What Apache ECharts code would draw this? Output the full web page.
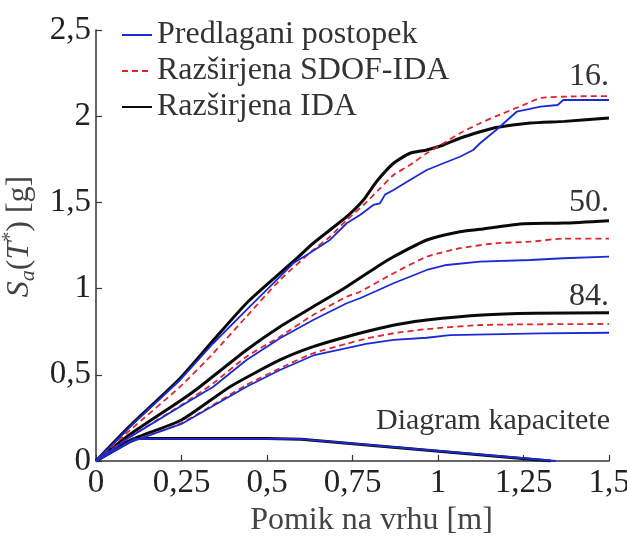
<!DOCTYPE html>
<html lang="sl">
<head>
    <meta charset="UTF-8">
    <title>Sa - pomik na vrhu</title>
    <script src="https://cdn.jsdelivr.net/npm/echarts@6/dist/echarts.min.js"></script>
    <style>
        html, body { margin: 0; padding: 0; background: #fff; }
        #chart { width: 627px; height: 541px; }
    </style>
</head>
<body>
    <div id="chart"></div>
    <script type="text/javascript">
        // legenda
        var legendNames = ['Predlagani postopek', 'Razširjena SDOF-IDA', 'Razširjena IDA'];

        // 16. percentil
        var ida16 = [[0,0],[0.1,0.205],[0.246,0.48],[0.343,0.7],[0.44,0.915],[0.538,1.09],[0.587,1.176],[0.635,1.263],[0.684,1.34],[0.733,1.417],[0.782,1.514],[0.82,1.62],[0.87,1.727],[0.918,1.785],[0.967,1.804],[1.016,1.833],[1.064,1.872],[1.123,1.91],[1.17,1.935],[1.27,1.96],[1.37,1.97],[1.5,1.99]];
        var sdof16 = [[0,0],[0.1,0.18],[0.246,0.431],[0.343,0.625],[0.44,0.838],[0.538,1.05],[0.635,1.224],[0.684,1.301],[0.733,1.398],[0.782,1.485],[0.83,1.58],[0.87,1.659],[0.918,1.717],[0.967,1.785],[1.016,1.843],[1.064,1.901],[1.123,1.959],[1.17,2.0],[1.25,2.065],[1.3,2.105],[1.4,2.115],[1.5,2.117]];
        var pred16 = [[0,0],[0.1,0.2],[0.246,0.47],[0.343,0.683],[0.44,0.876],[0.538,1.07],[0.577,1.147],[0.587,1.16],[0.616,1.195],[0.684,1.282],[0.733,1.379],[0.772,1.427],[0.811,1.485],[0.83,1.494],[0.845,1.545],[0.87,1.572],[0.918,1.63],[0.967,1.688],[1.016,1.727],[1.064,1.765],[1.103,1.804],[1.123,1.843],[1.17,1.92],[1.23,2.026],[1.3,2.055],[1.35,2.065],[1.366,2.094],[1.5,2.094]];

        // 50. percentil
        var ida50 = [[0,0],[0.1,0.155],[0.25,0.354],[0.304,0.431],[0.44,0.644],[0.538,0.779],[0.635,0.895],[0.733,1.011],[0.83,1.137],[0.87,1.185],[0.967,1.282],[1.064,1.33],[1.123,1.344],[1.24,1.375],[1.366,1.38],[1.5,1.394]];
        var sdof50 = [[0,0],[0.1,0.14],[0.25,0.325],[0.343,0.451],[0.44,0.605],[0.538,0.721],[0.635,0.847],[0.733,0.953],[0.772,0.982],[0.87,1.089],[0.967,1.185],[1.064,1.234],[1.17,1.263],[1.27,1.272],[1.366,1.29],[1.5,1.29]];
        var pred50 = [[0,0],[0.1,0.14],[0.25,0.32],[0.343,0.431],[0.44,0.586],[0.538,0.712],[0.635,0.818],[0.733,0.915],[0.772,0.944],[0.87,1.031],[0.967,1.108],[1.025,1.137],[1.123,1.156],[1.27,1.166],[1.366,1.176],[1.5,1.185]];

        // 84. percentil
        var ida84 = [[0,0],[0.1,0.12],[0.25,0.238],[0.392,0.431],[0.538,0.586],[0.635,0.663],[0.733,0.721],[0.83,0.77],[0.889,0.795],[0.967,0.818],[1.13,0.847],[1.28,0.857],[1.5,0.86]];
        var sdof84 = [[0,0],[0.1,0.11],[0.25,0.22],[0.44,0.441],[0.538,0.538],[0.635,0.625],[0.733,0.68],[0.79,0.71],[0.87,0.741],[0.967,0.765],[1.13,0.789],[1.5,0.795]];
        var pred84 = [[0,0],[0.1,0.11],[0.25,0.215],[0.44,0.431],[0.538,0.528],[0.635,0.612],[0.733,0.655],[0.79,0.68],[0.87,0.702],[0.967,0.715],[1.035,0.73],[1.3,0.74],[1.5,0.744]];

        // diagram kapacitete
        var capIda = [[0,0],[0.115,0.13],[0.5,0.13],[0.6,0.126],[1.33,0]];
        var capPred = [[0,0],[0.112,0.128],[0.59,0.128],[1.345,0]];

        var serif = 'Liberation Serif';
        var blue = '#1b2bd4', red = '#e0262a', black = '#0a0a0a';

        function curve(name, data, kind, mark, smooth) {
            var s = {
                name: name,
                type: 'line',
                data: data,
                symbol: 'none',
                smooth: smooth || false,
                z: kind === 'ida' ? 2 : (kind === 'sdof' ? 3 : 4),
                lineStyle: kind === 'ida' ? { color: black, width: 3 }
                         : kind === 'sdof' ? { color: red, width: 1.8, type: [6, 4] }
                         : { color: blue, width: 1.8 },
                itemStyle: { color: kind === 'ida' ? black : (kind === 'sdof' ? red : blue) }
            };
            if (mark) {
                s.markPoint = {
                    symbol: 'circle',
                    symbolSize: 0,
                    silent: true,
                    data: [{ name: mark.text, coord: mark.coord }],
                    label: {
                        show: true,
                        position: 'top',
                        formatter: '{b}',
                        offset: mark.offset,
                        fontFamily: serif,
                        fontSize: mark.size,
                        color: '#333'
                    }
                };
            }
            return s;
        }

        var chart = echarts.init(document.getElementById('chart'));
        var option = {
            animation: false,
            backgroundColor: '#fff',
            grid: { left: 96, right: 18, top: 30, bottom: 80, outerBoundsMode: 'none', containLabel: false },
            legend: {
                data: legendNames,
                orient: 'vertical',
                left: 116,
                top: 14,
                itemWidth: 30,
                itemHeight: 14,
                itemGap: 4,
                itemStyle: { opacity: 0 },
                textStyle: { fontFamily: serif, fontSize: 32, color: '#333', lineHeight: 32 }
            },
            xAxis: {
                type: 'value',
                min: 0,
                max: 1.5,
                interval: 0.25,
                name: 'Pomik na vrhu [m]',
                nameLocation: 'middle',
                nameGap: 36,
                nameTextStyle: { fontFamily: serif, fontSize: 32, color: '#444', padding: [0, 0, 0, 38] },
                axisLine: { lineStyle: { color: '#333', width: 1.5 } },
                axisTick: { inside: true, length: 6, lineStyle: { color: '#333', width: 1.2 } },
                axisLabel: {
                    margin: 6,
                    fontFamily: serif,
                    fontSize: 33,
                    color: '#222',
                    formatter: function (v) { return String(v).replace('.', ','); }
                },
                splitLine: { show: false }
            },
            yAxis: {
                type: 'value',
                min: 0,
                max: 2.5,
                interval: 0.5,
                name: '{i|S}{sub|a}{n|(}{i|T}{sup|*}{n|) [g]}',
                nameLocation: 'middle',
                nameRotate: 90,
                nameGap: 52,
                nameTextStyle: {
                    padding: [0, 0, 0, 18],
                    rich: {
                        i: { fontFamily: serif, fontStyle: 'italic', fontSize: 32, color: '#444', lineHeight: 38 },
                        n: { fontFamily: serif, fontSize: 32, color: '#444', lineHeight: 38 },
                        sub: { fontFamily: serif, fontStyle: 'italic', fontSize: 22, color: '#444', verticalAlign: 'bottom', lineHeight: 38 },
                        sup: { fontFamily: serif, fontSize: 20, color: '#444', verticalAlign: 'top', lineHeight: 38 }
                    }
                },
                axisLine: { show: true, lineStyle: { color: '#333', width: 1.5 } },
                axisTick: { show: true, inside: true, length: 6, lineStyle: { color: '#333', width: 1.2 } },
                axisLabel: {
                    margin: 5,
                    fontFamily: serif,
                    fontSize: 33,
                    color: '#222',
                    formatter: function (v) { return String(v).replace('.', ','); }
                },
                splitLine: { show: false }
            },
            series: [
                curve('Razširjena IDA', capIda, 'ida', { text: 'Diagram kapacitete', coord: [1.5, 0.13], offset: [-116, 3], size: 30 }),
                curve('cap-pred', capPred, 'pred'),
                curve('Razširjena IDA', ida84, 'ida', { text: '84.', coord: [1.5, 0.86], offset: [-20, 5], size: 32 }, 0.2),
                curve('Razširjena IDA', ida50, 'ida', { text: '50.', coord: [1.5, 1.394], offset: [-20, 3], size: 32 }, 0.2),
                curve('Razširjena IDA', ida16, 'ida', null, 0.2),
                curve('Razširjena SDOF-IDA', sdof84, 'sdof', null, 0.2),
                curve('Razširjena SDOF-IDA', sdof50, 'sdof', null, 0.2),
                curve('Razširjena SDOF-IDA', sdof16, 'sdof', { text: '16.', coord: [1.5, 2.117], offset: [-20, 2], size: 32 }, 0.2),
                curve('Predlagani postopek', pred84, 'pred'),
                curve('Predlagani postopek', pred50, 'pred'),
                curve('Predlagani postopek', pred16, 'pred')
            ]
        };
        chart.setOption(option);
    </script>
</body>
</html>
